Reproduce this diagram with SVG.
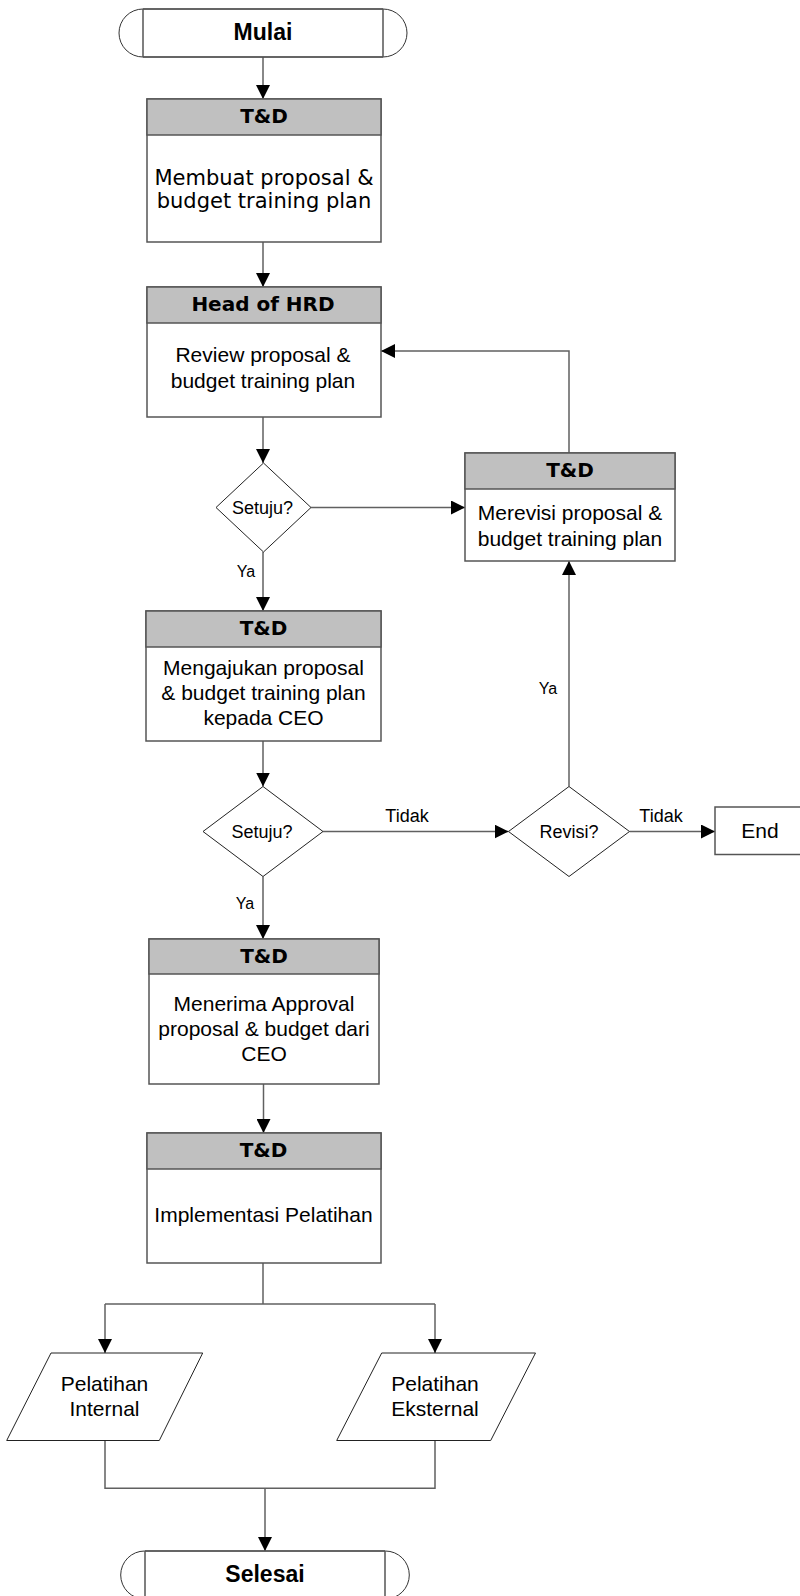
<svg xmlns="http://www.w3.org/2000/svg" width="800" height="1596" viewBox="0 0 800 1596">
<defs>
<marker id="ah" markerUnits="userSpaceOnUse" markerWidth="14" markerHeight="14" refX="14" refY="7" orient="auto">
<path d="M0,0 L14,7 L0,14 Z" fill="#000"/>
</marker>
</defs>
<style>
.box{fill:#fff;stroke:#555;stroke-width:1.5}
.hdr{fill:#c0c0c0;stroke:#555;stroke-width:1.5}
.shape{fill:#fff;stroke:#222;stroke-width:1}
.term{fill:none;stroke:#555;stroke-width:1.5}
.conn{fill:none;stroke:#606060;stroke-width:1.5}
.arr{marker-end:url(#ah)}
.ht{font-family:"DejaVu Sans",Verdana,sans-serif;font-weight:bold;font-size:20px;text-anchor:middle;fill:#000}
.vt{font-family:"DejaVu Sans",Verdana,sans-serif;font-size:21px;text-anchor:middle;fill:#000}
.at{font-family:"Liberation Sans",Arial,sans-serif;font-size:21px;text-anchor:middle;fill:#000}
.bt{font-family:"Liberation Sans",Arial,sans-serif;font-weight:bold;font-size:23px;text-anchor:middle;fill:#000}
.dt{font-family:"Liberation Sans",Arial,sans-serif;font-size:18px;text-anchor:middle;fill:#000}
.lt{font-family:"Liberation Sans",Arial,sans-serif;font-size:16px;text-anchor:middle;fill:#000}
.tt{font-family:"Liberation Sans",Arial,sans-serif;font-size:18px;text-anchor:middle;fill:#000}
</style>
<rect width="800" height="1596" fill="#fff"/>

<g id="connectors">
<line class="conn arr" x1="263" y1="57" x2="263" y2="99"/>
<line class="conn arr" x1="263" y1="242" x2="263" y2="287"/>
<line class="conn arr" x1="263" y1="417" x2="263" y2="463"/>
<line class="conn arr" x1="311" y1="507.5" x2="465" y2="507.5"/>
<polyline class="conn arr" points="569,453 569,351 381,351"/>
<line class="conn arr" x1="263" y1="552" x2="263" y2="611"/>
<text class="lt" x="246" y="577">Ya</text>
<line class="conn arr" x1="263" y1="741" x2="263" y2="786.5"/>
<line class="conn arr" x1="323" y1="831.5" x2="508.5" y2="831.5"/>
<text class="tt" x="407" y="822">Tidak</text>
<line class="conn arr" x1="629.5" y1="831.5" x2="715" y2="831.5"/>
<text class="tt" x="661" y="822">Tidak</text>
<line class="conn arr" x1="569" y1="786.5" x2="569" y2="561"/>
<text class="lt" x="548" y="694">Ya</text>
<line class="conn arr" x1="263" y1="876.5" x2="263" y2="939"/>
<text class="lt" x="245" y="909">Ya</text>
<line class="conn arr" x1="263.5" y1="1084" x2="263.5" y2="1133"/>
<polyline class="conn" points="263,1263 263,1304"/>
<polyline class="conn" points="105,1304 435,1304"/>
<line class="conn arr" x1="105" y1="1304" x2="105" y2="1353"/>
<line class="conn arr" x1="435" y1="1304" x2="435" y2="1353"/>
<polyline class="conn" points="105,1440.5 105,1488.3 435,1488.3 435,1440.5"/>
<line class="conn arr" x1="265" y1="1488.3" x2="265" y2="1551"/>
</g>

<g id="mulai">
<rect x="119" y="9" width="288" height="48" rx="24" ry="24" fill="#fff" stroke="#333" stroke-width="1"/>
<line class="term" x1="143" y1="9" x2="143" y2="57"/>
<line class="term" x1="383" y1="9" x2="383" y2="57"/>
<line class="term" x1="143" y1="9" x2="383" y2="9"/>
<line class="term" x1="143" y1="57" x2="383" y2="57"/>
<text class="bt" x="263" y="40">Mulai</text>
</g>

<g id="membuat">
<rect class="box" x="147" y="99" width="234" height="143"/>
<rect class="hdr" x="147" y="99" width="234" height="36"/>
<text class="ht" x="264" y="123">T&amp;D</text>
<text class="vt" x="264" y="184.5">Membuat proposal &amp;</text>
<text class="vt" x="264" y="208">budget training plan</text>
</g>

<g id="review">
<rect class="box" x="147" y="287" width="234" height="130"/>
<rect class="hdr" x="147" y="287" width="234" height="36"/>
<text class="ht" x="263" y="311">Head of HRD</text>
<text class="at" x="263" y="362">Review proposal &amp;</text>
<text class="at" x="263" y="388">budget training plan</text>
</g>

<g id="setuju1">
<polygon class="shape" points="263.5,463 311,507.5 263.5,552 216,507.5"/>
<text class="dt" x="262.5" y="513.5">Setuju?</text>
</g>

<g id="merevisi">
<rect class="box" x="465" y="453" width="210" height="108"/>
<rect class="hdr" x="465" y="453" width="210" height="36"/>
<text class="ht" x="570" y="477">T&amp;D</text>
<text class="at" x="570" y="519.5">Merevisi proposal &amp;</text>
<text class="at" x="570" y="545.5">budget training plan</text>
</g>

<g id="mengajukan">
<rect class="box" x="146" y="611" width="235" height="130"/>
<rect class="hdr" x="146" y="611" width="235" height="36"/>
<text class="ht" x="263.5" y="634.5">T&amp;D</text>
<text class="at" x="263.5" y="675">Mengajukan proposal</text>
<text class="at" x="263.5" y="700">&amp; budget training plan</text>
<text class="at" x="263.5" y="725">kepada CEO</text>
</g>

<g id="setuju2">
<polygon class="shape" points="263,786.5 323,831.5 263,876.5 203,831.5"/>
<text class="dt" x="262" y="837.5">Setuju?</text>
</g>

<g id="revisi">
<polygon class="shape" points="569,786.5 629.5,831.5 569,876.5 508.5,831.5"/>
<text class="dt" x="569" y="837.5">Revisi?</text>
</g>

<g id="end">
<rect class="box" x="715" y="807" width="90" height="47.5"/>
<text class="at" x="760" y="838">End</text>
</g>

<g id="menerima">
<rect class="box" x="149" y="939" width="230" height="145"/>
<rect class="hdr" x="149" y="939" width="230" height="35"/>
<text class="ht" x="264" y="962.5">T&amp;D</text>
<text class="at" x="264" y="1010.5">Menerima Approval</text>
<text class="at" x="264" y="1035.5">proposal &amp; budget dari</text>
<text class="at" x="264" y="1061">CEO</text>
</g>

<g id="implementasi">
<rect class="box" x="147" y="1133" width="234" height="130"/>
<rect class="hdr" x="147" y="1133" width="234" height="36"/>
<text class="ht" x="263.5" y="1156.5">T&amp;D</text>
<text class="at" x="263.5" y="1222">Implementasi Pelatihan</text>
</g>

<g id="internal">
<polygon class="shape" points="51,1353 202.7,1353 159.3,1440.5 6.7,1440.5"/>
<text class="at" x="104.5" y="1390.5">Pelatihan</text>
<text class="at" x="104.5" y="1416">Internal</text>
</g>

<g id="eksternal">
<polygon class="shape" points="381.7,1353 535.5,1353 490.7,1440.5 336.7,1440.5"/>
<text class="at" x="435" y="1390.5">Pelatihan</text>
<text class="at" x="435" y="1416">Eksternal</text>
</g>

<g id="selesai">
<rect x="120.7" y="1551" width="288.6" height="48" rx="24" ry="24" fill="#fff" stroke="#333" stroke-width="1"/>
<line class="term" x1="145" y1="1551" x2="145" y2="1599"/>
<line class="term" x1="385" y1="1551" x2="385" y2="1599"/>
<line class="term" x1="145" y1="1551" x2="385" y2="1551"/>
<text class="bt" x="265" y="1582">Selesai</text>
</g>
</svg>
